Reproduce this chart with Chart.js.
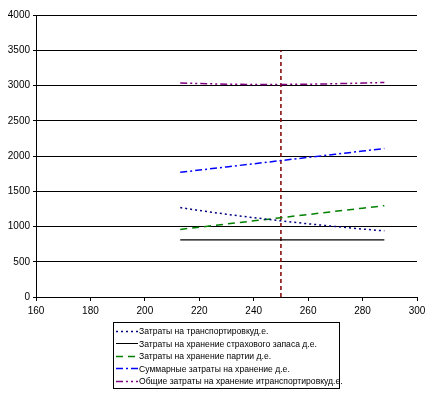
<!DOCTYPE html>
<html>
<head>
<meta charset="utf-8">
<script src="https://cdn.jsdelivr.net/npm/chart.js@4/dist/chart.umd.min.js"></script>
<style>
    body { margin: 0; background: #fff; }
    #wrap { position: relative; width: 435px; height: 394px; }
    #legenda {
        position: absolute; left: 113px; top: 322px; width: 227px; height: 67px;
        border: 1px solid #000; font-family: "Liberation Sans", Arial, sans-serif;
        font-size: 8.6px; color: #000; box-sizing: border-box; padding-top: 2px;
    }
    .fila { height: 12.5px; display: flex; align-items: center; white-space: nowrap; }
    .fila svg { flex: none; }
</style>
</head>
<body>
<div id="wrap">
    <canvas id="grafica" width="435" height="394"></canvas>
    <div id="legenda"></div>
</div>
<script>
// Размер партии (ось X)
const partia = [213, 220, 230, 240, 250, 260, 270, 280, 288];

// Затраты, д.е.
const transporte = [1268, 1227, 1174, 1125, 1080, 1038, 1000, 964, 938];
const seguro = [810, 810, 810, 810, 810, 810, 810, 810, 810];
const lote = [959, 990, 1035, 1080, 1125, 1170, 1215, 1260, 1296];
const almacenTotal = [1769, 1800, 1845, 1890, 1935, 1980, 2025, 2070, 2106];
const totalGeneral = [3037, 3027, 3019, 3015, 3015, 3018, 3025, 3034, 3044];

// оптимум
const optimoX = [250, 250];
const optimoY = [0, 3500];

const xTicks = [160, 180, 200, 220, 240, 260, 280, 300];
const yTicks = [0, 500, 1000, 1500, 2000, 2500, 3000, 3500, 4000];

const etiquetas = [
    'Затраты на транспортировкуд.е.',
    'Затраты на хранение страхового запаса д.е.',
    'Затраты на хранение партии д.е.',
    'Суммарные затраты на хранение д.е.',
    'Общие затраты на хранение итранспортировкуд.е.'
];

const estilos = [
    { color: '#000080', dash: [2, 3], width: 1.5 },
    { color: '#000000', dash: [], width: 1.2 },
    { color: '#008000', dash: [7, 5], width: 1.5 },
    { color: '#0000FF', dash: [7, 3, 2, 3], width: 1.5 },
    { color: '#800080', dash: [7, 3, 2, 3, 2, 3], width: 1.5 }
];

const series = [transporte, seguro, lote, almacenTotal, totalGeneral];

const toPts = (xs, ys) => xs.map((x, i) => ({ x: x, y: ys[i] }));

const datasets = series.map((s, i) => ({
    label: etiquetas[i],
    data: toPts(partia, s),
    borderColor: estilos[i].color,
    borderDash: estilos[i].dash,
    borderWidth: estilos[i].width,
    pointRadius: 0,
    showLine: true,
    fill: false
}));

datasets.push({
    label: 'optimo',
    data: toPts(optimoX, optimoY),
    borderColor: '#800000',
    borderDash: [4, 3],
    borderWidth: 1.5,
    pointRadius: 0,
    showLine: true,
    fill: false
});

const fuente = { family: '"Liberation Sans", Arial, sans-serif', size: 10 };

new Chart(document.getElementById('grafica').getContext('2d'), {
    type: 'scatter',
    data: { datasets: datasets },
    options: {
        responsive: false,
        animation: false,
        layout: { padding: { left: 0, right: 18, top: 15, bottom: 77 } },
        plugins: { legend: { display: false }, tooltip: { enabled: false } },
        scales: {
            x: {
                type: 'linear', min: 160, max: 300,
                afterBuildTicks: (s) => { s.ticks = xTicks.map(v => ({ value: v })); },
                afterFit: (s) => { s.height = 20; },
                grid: { drawOnChartArea: false, drawTicks: true, tickLength: 4, color: '#000' },
                border: { color: '#000', width: 1 },
                ticks: { color: '#000', font: fuente, padding: 4, maxRotation: 0, callback: (v) => String(v) }
            },
            y: {
                min: 0, max: 4000,
                afterBuildTicks: (s) => { s.ticks = yTicks.map(v => ({ value: v })); },
                afterFit: (s) => { s.width = 36; },
                grid: { color: '#000', lineWidth: 1, tickLength: 3 },
                border: { color: '#000', width: 1 },
                ticks: { color: '#000', font: fuente, padding: 3, callback: (v) => String(v) }
            }
        }
    }
});

// leyenda
const legenda = document.getElementById('legenda');
etiquetas.forEach((txt, i) => {
    const e = estilos[i];
    const fila = document.createElement('div');
    fila.className = 'fila';
    fila.innerHTML = '<svg width="25" height="9"><line x1="2" y1="4.5" x2="24" y2="4.5" stroke="' + e.color +
        '" stroke-width="' + (i === 1 ? 1 : 1.3) + '" stroke-dasharray="' + (e.dash.length ? e.dash.join(' ') : 'none') + '"/></svg>';
    const span = document.createElement('span');
    span.textContent = txt;
    fila.appendChild(span);
    legenda.appendChild(fila);
});
</script>
</body>
</html>
